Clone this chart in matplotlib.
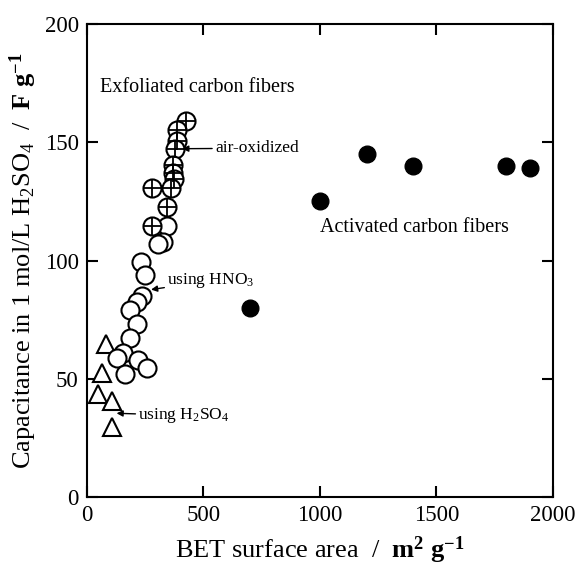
import matplotlib.pyplot as plt

plt.rcParams['font.family'] = 'Liberation Serif'
plt.rcParams['mathtext.fontset'] = 'custom'
plt.rcParams['mathtext.rm'] = 'Liberation Serif'
plt.rcParams['mathtext.it'] = 'Liberation Serif:italic'
plt.rcParams['mathtext.bf'] = 'Liberation Serif:bold'

# activated carbon fibers (filled)
acf_x = [700, 1000, 1200, 1400, 1800, 1900]
acf_y = [80, 125, 145, 140, 140, 139]

# exfoliated, air-oxidized (crossed circles)
air_x = [425, 385, 385, 378, 370, 370, 372, 360, 278, 345, 278]
air_y = [159, 155, 150.5, 147, 140.5, 137, 134.5, 130.5, 130.5, 122.5, 114.5]

# exfoliated using HNO3 (open circles)
hno3_x = [345, 325, 306, 230, 249, 235, 216, 185, 213, 185, 156, 130, 220, 259, 163]
hno3_y = [114.5, 107.8, 106.8, 99.5, 94, 85, 82.3, 79.2, 73, 67.2, 61, 58.8, 58, 54.5, 52]

# exfoliated using H2SO4 (triangles)
h2so4_x = [80, 63, 48, 106, 106]
h2so4_y = [64.8, 52.4, 43.6, 40.4, 29.8]

fig = plt.figure(figsize=(5.76, 5.67), dpi=100)
ax = fig.add_axes([0.151, 0.1235, 0.809, 0.834])

ax.plot(h2so4_x, h2so4_y, '^', ms=13, mfc='white', mec='black', mew=1.5, linestyle='none')
ax.plot(hno3_x, hno3_y, 'o', ms=13, mfc='white', mec='black', mew=1.5, linestyle='none')
ax.plot(air_x, air_y, 'o', ms=13, mfc='white', mec='black', mew=1.5, linestyle='none')
ax.plot(air_x, air_y, '+', ms=13, mec='black', mew=1.3, linestyle='none')
ax.plot(acf_x, acf_y, 'o', ms=12, mfc='black', mec='black', linestyle='none')

ax.text(56, 173, 'Exfoliated carbon fibers', fontsize=14.5, va='center')
ax.text(1000, 114, 'Activated carbon fibers', fontsize=14.5, va='center')

arr = dict(arrowstyle='-|>', color='black', lw=1, mutation_scale=9, shrinkA=0, shrinkB=0)
ax.annotate('air-oxidized', xy=(409, 147.3), xytext=(549, 147.5), fontsize=12.5,
            va='center', arrowprops=arr)
ax.annotate('using HNO$_3$', xy=(275, 87.7), xytext=(344, 91.5), fontsize=12.5,
            va='center', arrowprops=arr)
ax.annotate('using H$_2$SO$_4$', xy=(127, 35.4), xytext=(220, 34.5), fontsize=12.5,
            va='center', arrowprops=arr)

ax.set_xlim(0, 2000)
ax.set_ylim(0, 200)
ax.set_xticks([0, 500, 1000, 1500, 2000])
ax.set_yticks([0, 50, 100, 150, 200])
ax.tick_params(direction='in', length=8, width=1.5, labelsize=16.5, pad=6,
               top=True, right=True)
for s in ax.spines.values():
    s.set_linewidth(1.5)

ax.set_xlabel('BET surface area  /  $\\mathbf{m^2\\ g^{-1}}$', fontsize=19, labelpad=6)
ax.set_ylabel('Capacitance in 1 mol/L H$_2$SO$_4$  /  $\\mathbf{F\\ g^{-1}}$', fontsize=19,
              labelpad=4)

fig.savefig('out.png', dpi=100)
